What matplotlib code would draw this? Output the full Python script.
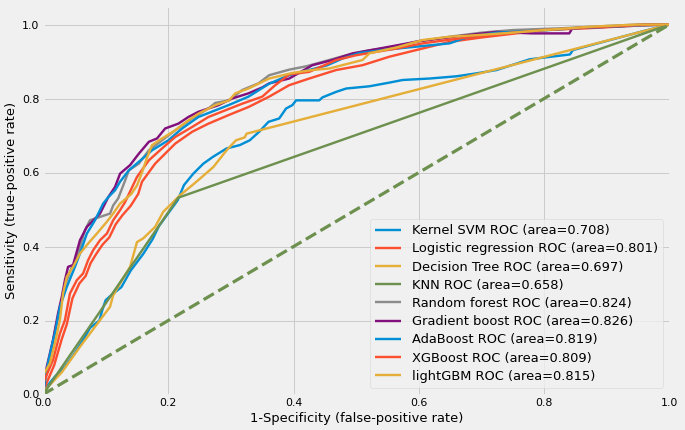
import matplotlib
matplotlib.use("Agg")
import matplotlib.pyplot as plt

# ---------------- data ----------------
svm_fpr = [0, 0.005, 0.02, 0.035, 0.05, 0.065, 0.075, 0.09, 0.095, 0.1, 0.11, 0.125, 0.14, 0.16, 0.175,
           0.185, 0.2, 0.215, 0.225, 0.24, 0.256, 0.271, 0.293, 0.314, 0.33, 0.345, 0.36, 0.377, 0.388,
           0.398, 0.404, 0.441, 0.446, 0.468, 0.484, 0.521, 0.553, 0.574, 0.617, 0.66, 0.692, 0.724,
           0.777, 0.841, 0.846, 0.894, 0.958, 1.0]
svm_tpr = [0, 0.02, 0.05, 0.075, 0.11, 0.15, 0.18, 0.2, 0.23, 0.255, 0.27, 0.29, 0.335, 0.38, 0.42,
           0.455, 0.49, 0.525, 0.566, 0.597, 0.624, 0.642, 0.665, 0.674, 0.687, 0.71, 0.737, 0.746, 0.773,
           0.782, 0.795, 0.795, 0.803, 0.818, 0.827, 0.833, 0.843, 0.85, 0.854, 0.86, 0.868, 0.877,
           0.906, 0.919, 0.931, 0.953, 0.982, 1.0]

lr_fpr = [0, 0.003, 0.018, 0.03, 0.038, 0.047, 0.058, 0.068, 0.076, 0.085, 0.095, 0.106, 0.116, 0.127,
          0.14, 0.152, 0.158, 0.179, 0.211, 0.238, 0.264, 0.296, 0.328, 0.361, 0.393, 0.425, 0.468, 0.51,
          0.553, 0.596, 0.649, 0.7, 0.75, 0.8, 0.87, 0.95, 1.0]
lr_tpr = [0, 0.02, 0.08, 0.15, 0.19, 0.26, 0.3, 0.32, 0.355, 0.38, 0.405, 0.425, 0.46, 0.485,
          0.51, 0.542, 0.575, 0.624, 0.678, 0.71, 0.732, 0.755, 0.777, 0.805, 0.836, 0.854, 0.877, 0.89,
          0.913, 0.931, 0.953, 0.965, 0.975, 0.985, 0.99, 0.997, 1.0]

dt_fpr = [0, 0.003, 0.03, 0.059, 0.091, 0.107, 0.112, 0.123, 0.139, 0.15, 0.16, 0.179, 0.192, 0.203,
          0.219, 0.235, 0.251, 0.272, 0.293, 0.308, 0.322, 0.325, 1.0]
dt_tpr = [0, 0.012, 0.06, 0.129, 0.201, 0.237, 0.268, 0.3, 0.345, 0.412, 0.422, 0.453, 0.494, 0.512,
          0.539, 0.561, 0.584, 0.615, 0.66, 0.687, 0.695, 0.705, 1.0]

knn_fpr = [0, 0.216, 1.0]
knn_tpr = [0, 0.532, 1.0]

rf_fpr = [0, 0.004, 0.012, 0.02, 0.028, 0.036, 0.045, 0.052, 0.059, 0.067, 0.075, 0.091, 0.107, 0.112,
          0.12, 0.131, 0.137, 0.153, 0.169, 0.19, 0.211, 0.238, 0.264, 0.275, 0.297, 0.318, 0.344, 0.361,
          0.393, 0.42, 0.446, 0.48, 0.52, 0.56, 0.6, 0.65, 0.7, 0.75, 0.83, 0.9, 0.95, 1.0]
rf_tpr = [0, 0.04, 0.11, 0.18, 0.24, 0.3, 0.34, 0.36, 0.399, 0.444, 0.471, 0.48, 0.489, 0.511,
          0.53, 0.578, 0.606, 0.624, 0.66, 0.687, 0.714, 0.746, 0.773, 0.788, 0.795, 0.823, 0.841, 0.863,
          0.878, 0.887, 0.899, 0.915, 0.93, 0.94, 0.955, 0.967, 0.978, 0.985, 0.99, 0.996, 1.0, 1.0]

gb_fpr = [0, 0.002, 0.006, 0.016, 0.024, 0.03, 0.035, 0.04, 0.048, 0.059, 0.07, 0.083, 0.091, 0.104,
          0.115, 0.123, 0.139, 0.153, 0.169, 0.182, 0.195, 0.216, 0.232, 0.248, 0.264, 0.28, 0.302,
          0.328, 0.35, 0.361, 0.393, 0.43, 0.462, 0.494, 0.537, 0.585, 0.6, 0.676, 0.724, 0.78, 0.84,
          0.845, 0.92, 0.96, 1.0]
gb_tpr = [0, 0.03, 0.075, 0.147, 0.219, 0.264, 0.309, 0.345, 0.35, 0.417, 0.453, 0.475, 0.489, 0.533,
          0.561, 0.597, 0.62, 0.651, 0.683, 0.692, 0.719, 0.732, 0.75, 0.764, 0.773, 0.782, 0.8,
          0.814, 0.83, 0.841, 0.854, 0.89, 0.904, 0.922, 0.935, 0.95, 0.955, 0.971, 0.98, 0.976, 0.976,
          0.99, 0.995, 1.0, 1.0]

ada_fpr = [0, 0.003, 0.009, 0.016, 0.019, 0.027, 0.038, 0.051, 0.059, 0.07, 0.083, 0.096, 0.104, 0.115,
           0.123, 0.137, 0.153, 0.174, 0.2, 0.222, 0.248, 0.275, 0.296, 0.328, 0.361, 0.393, 0.425, 0.454,
           0.478, 0.505, 0.548, 0.601, 0.649, 0.676, 0.724, 0.79, 0.85, 0.9, 0.95, 1.0]
ada_tpr = [0, 0.04, 0.093, 0.146, 0.165, 0.237, 0.291, 0.345, 0.381, 0.435, 0.471, 0.516, 0.533, 0.552,
           0.575, 0.606, 0.629, 0.66, 0.687, 0.719, 0.75, 0.768, 0.782, 0.805, 0.84, 0.863, 0.877, 0.89,
           0.908, 0.923, 0.932, 0.941, 0.949, 0.965, 0.978, 0.983, 0.99, 0.994, 0.997, 1.0]

xgb_fpr = [0, 0.0, 0.016, 0.027, 0.035, 0.043, 0.054, 0.064, 0.072, 0.08, 0.091, 0.102, 0.112, 0.123,
           0.131, 0.15, 0.169, 0.19, 0.211, 0.238, 0.264, 0.291, 0.318, 0.35, 0.37, 0.393, 0.425, 0.468,
           0.5, 0.521, 0.564, 0.606, 0.649, 0.7, 0.75, 0.8, 0.87, 0.95, 1.0]
xgb_tpr = [0, 0.03, 0.093, 0.165, 0.201, 0.273, 0.309, 0.327, 0.363, 0.39, 0.417, 0.435, 0.471, 0.498,
           0.52, 0.588, 0.633, 0.665, 0.696, 0.723, 0.75, 0.768, 0.786, 0.805, 0.835, 0.865, 0.872, 0.904,
           0.917, 0.923, 0.935, 0.949, 0.959, 0.97, 0.978, 0.985, 0.992, 0.998, 1.0]

lgb_fpr = [0, 0.0, 0.011, 0.019, 0.027, 0.032, 0.038, 0.048, 0.059, 0.072, 0.086, 0.102, 0.112, 0.123,
           0.141, 0.15, 0.158, 0.166, 0.174, 0.19, 0.211, 0.232, 0.248, 0.275, 0.297, 0.307, 0.328, 0.35,
           0.361, 0.398, 0.43, 0.457, 0.489, 0.51, 0.521, 0.564, 0.606, 0.649, 0.7, 0.75, 0.8, 0.873,
           0.95, 1.0]
lgb_tpr = [0, 0.052, 0.084, 0.138, 0.201, 0.273, 0.318, 0.345, 0.381, 0.408, 0.435, 0.467, 0.489, 0.516,
           0.542, 0.565, 0.6, 0.64, 0.674, 0.692, 0.714, 0.741, 0.759, 0.782, 0.795, 0.814, 0.827, 0.845,
           0.854, 0.869, 0.877, 0.881, 0.895, 0.904, 0.922, 0.938, 0.958, 0.967, 0.972, 0.978, 0.985, 0.994,
           1.0, 1.0]

labels = ["Kernel SVM ROC (area=0.708)", "Logistic regression ROC (area=0.801)",
          "Decision Tree ROC (area=0.697)", "KNN ROC (area=0.658)",
          "Random forest ROC (area=0.824)", "Gradient boost ROC (area=0.826)",
          "AdaBoost ROC (area=0.819)", "XGBoost ROC (area=0.809)", "lightGBM ROC (area=0.815)"]
diag = [0, 1]

# ---------------- plot ----------------
plt.style.use("fivethirtyeight")
fig = plt.figure(figsize=(685 / 72, 430 / 72), dpi=72)
ax = fig.add_axes([43 / 685, 35.5 / 430, (669.5 - 43) / 685, (424 - 35.5) / 430])

curves = [(svm_fpr, svm_tpr), (lr_fpr, lr_tpr), (dt_fpr, dt_tpr), (knn_fpr, knn_tpr),
          (rf_fpr, rf_tpr), (gb_fpr, gb_tpr), (ada_fpr, ada_tpr), (xgb_fpr, xgb_tpr), (lgb_fpr, lgb_tpr)]
for (f, t), lab in zip(curves, labels):
    ax.plot(f, t, lw=2.4, label=lab)
ax.plot(diag, diag, "--", lw=3.2, color="#6d904f")

ax.set_xlim(0, 1.0)
ax.set_ylim(0, 1.05)
ax.tick_params(labelsize=11)
ax.set_xlabel("1-Specificity (false-positive rate)", fontsize=13)
ax.set_ylabel("Sensitivity (true-positive rate)", fontsize=13)
ax.legend(loc="lower right", fontsize=13, labelspacing=0.4)

fig.savefig("out.png", dpi=72)
